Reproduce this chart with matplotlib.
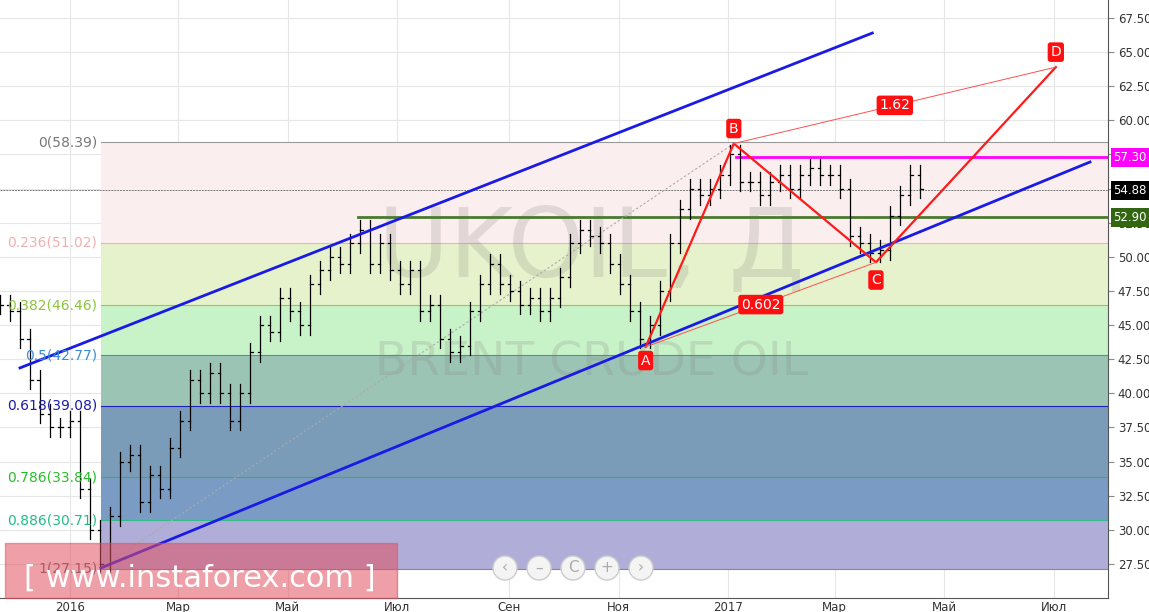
import numpy as np
import matplotlib
matplotlib.use("Agg")
import matplotlib.pyplot as plt
import matplotlib.transforms as mt
from matplotlib.patches import Rectangle, Circle

plt.rcParams['font.family'] = ['DejaVu Sans']

# ---- data ----
start_day, end_day = -38.9, 472.7   # days since 2016-01-01
closes = [46.5,46,44,41,38.5,37.5,37.5,38,33,30,27.5,31,35,35.5,32,34,33,36,38,41,40,41.5,40,38,40,43,45,44.5,47,46,
          45,48,49,50,49.5,51,52,49.5,51,49,48,49,46,46.5,44,43,43.5,46,48,49.5,48,47.5,46.5,47,46,47,48.5,51,52,51.5,
          51,49.5,48,46,44,45,47.5,51,53.5,55,54.5,55,56,57.5,55.5,55.5,54.5,55.5,56,55,56,56.5,56,56,55,51.5,51,50.3,50.5,53,
          54.5,56,55]
fib_levels = [58.39, 51.02, 46.46, 42.77, 39.08, 33.84, 30.71, 27.15]
fib_names = ["0", "0.236", "0.382", "0.5", "0.618", "0.786", "0.886", "1"]
fib_line_cols = ["#999999", "#f0b0b0", "#9acd32", "#4a90b0", "#2020c0", "#33bb33", "#33bb88", "#888888"]
fib_txt_cols = ["#777777", "#f0b0b0", "#8cc43c", "#3a8ed0", "#1a1aa8", "#2cbb2c", "#22bb88", "#666666"]
fib_fill = ["#fbeeee", "#e6f2cc", "#c8f2c8", "#9cc4b4", "#7a9cb8", "#7a9cc4", "#b0aed8"]
fib_start = 17.2
upper_ch = ([-27.8, 446], [41.86, 66.4])
lower_ch = ([17.2, 567], [27.2, 56.95])
A, B, C, D = (320, 43.4), (369, 58.3), (448, 49.6), (548, 63.9)
lvl_green, lvl_mag, lvl_last = 52.90, 57.30, 54.88
xticks = [0, 60, 121, 182, 244, 305, 366, 425, 486, 547]
xlabels = ["2016", "Мар", "Май", "Июл", "Сен", "Ноя", "2017", "Мар", "Май", "Июл"]

fig = plt.figure(figsize=(11.49, 6.12), dpi=100)
ax = fig.add_axes([0, 14/612, 1108/1149, 598/612])
xmin, xmax = -38.9, 577
ax.set_xlim(xmin, xmax)
ax.set_ylim(25.0, 68.82)

for t in xticks:
    ax.axvline(t, color="#e6e6e6", lw=0.8, zorder=0)
yt = np.arange(27.5, 68, 2.5)
for t in yt:
    ax.axhline(t, color="#e6e6e6", lw=0.8, zorder=0)

for i in range(7):
    ax.add_patch(Rectangle((fib_start, fib_levels[i+1]), xmax - fib_start, fib_levels[i]-fib_levels[i+1],
                           color=fib_fill[i], zorder=1, lw=0))
for lv, nm, lc, tc in zip(fib_levels, fib_names, fib_line_cols, fib_txt_cols):
    ax.plot([fib_start, xmax], [lv, lv], color=lc, lw=0.8, zorder=2)
    ax.text(fib_start - 2, lv, f"{nm}({lv:.2f})", color=tc, fontsize=10, ha="right", va="center", zorder=6)

ax.text(290, 50.5, "UKOIL, Д", fontsize=70, color="#7f7f7f", alpha=0.2, ha="center", va="center", zorder=2)
ax.text(290, 42.2, "BRENT CRUDE OIL", fontsize=34, color="#7f7f7f", alpha=0.2, ha="center", va="center", zorder=2)

days = np.linspace(start_day, end_day, len(closes))
prev = closes[0]
for d, c in zip(days, closes):
    lo, hi = min(prev, c) - 0.7, max(prev, c) + 0.7
    ax.plot([d, d], [lo, hi], color="black", lw=0.9, zorder=4)
    ax.plot([d, d + 1.4], [c, c], color="black", lw=0.9, zorder=4)
    ax.plot([d - 1.4, d], [prev, prev], color="black", lw=0.9, zorder=4)
    prev = c

ax.plot([start_day, xmax], [lvl_last, lvl_last], color="#777777", lw=0.7, ls=(0, (2, 1)), zorder=3)
ax.plot([160, xmax], [lvl_green, lvl_green], color="#4a7a30", lw=2, zorder=3)
ax.plot([370, xmax], [lvl_mag, lvl_mag], color="#ff00ff", lw=2, zorder=3)
ax.plot([fib_start, B[0]], [27.2, B[1]], color="#aaaaaa", lw=0.8, ls=(0, (2, 2)), zorder=3)
ax.plot(*upper_ch, color="#1a1ae6", lw=2, zorder=5)
ax.plot(*lower_ch, color="#1a1ae6", lw=2, zorder=5)
ax.plot([A[0], B[0], C[0], D[0]], [A[1], B[1], C[1], D[1]], color="#ff1a1a", lw=1.6, zorder=6)
ax.plot([A[0], C[0]], [A[1], C[1]], color="#ff5050", lw=0.7, zorder=6)
ax.plot([B[0], D[0]], [B[1], D[1]], color="#ff5050", lw=0.7, zorder=6)

def lab(x, y, s):
    ax.text(x, y, s, color="white", fontsize=10, ha="center", va="center", zorder=8,
            bbox=dict(boxstyle="round,pad=0.2", fc="#ff1010", ec="none"))
lab(A[0], A[1]-1.0, "A")
lab(B[0], B[1]+1.1, "B")
lab(C[0], C[1]-1.3, "C")
lab(D[0], D[1]+1.1, "D")
lab((A[0]+C[0])/2, (A[1]+C[1])/2, "0.602")
lab((B[0]+D[0])/2, (B[1]+D[1])/2, "1.62")

ax.yaxis.tick_right()
ax.set_yticks(yt)
ax.set_yticklabels([f"{v:.2f}" for v in yt], fontsize=8.5, color="#333333")
ax.tick_params(axis="y", length=4, color="#888888", pad=3)
ax.set_xticks(xticks)
ax.set_xticklabels(xlabels, fontsize=8.5, color="#333333")
ax.tick_params(axis="x", length=0, pad=2)
for s in ["top", "left"]:
    ax.spines[s].set_visible(False)
ax.spines["right"].set_color("#555555")
ax.spines["bottom"].set_color("#555555")
tr = mt.blended_transform_factory(ax.transAxes, ax.transData)
for v, bg in [(lvl_mag, "#ff00ff"), (lvl_last, "black"), (lvl_green, "#336611")]:
    ax.text(1.005, v, f"{v:.2f}", transform=tr, color="white", fontsize=8.5, ha="left", va="center",
            zorder=9, clip_on=False, bbox=dict(boxstyle="square,pad=0.25", fc=bg, ec="none"))

fig.patches.append(Rectangle((5/1149, 1 - 598/612), 392/1149, 55/612, transform=fig.transFigure,
                             color="#e05060", alpha=0.55, zorder=10))
fig.text(200/1149, 1 - 578/612, "[ www.instaforex.com ]", color="white", fontsize=22,
         ha="center", va="center", zorder=11)
for i, s in enumerate(["‹", "–", "C", "+", "›"]):
    cx = 505 + i*34
    fig.patches.append(Circle((cx, 44), 12, transform=None, fc="#f4f4f4", ec="#cccccc", zorder=10))
    fig.text(cx/1149, 44/612, s, color="#aaaaaa", fontsize=11, ha="center", va="center", zorder=11)

fig.savefig("out.png", dpi=100)
